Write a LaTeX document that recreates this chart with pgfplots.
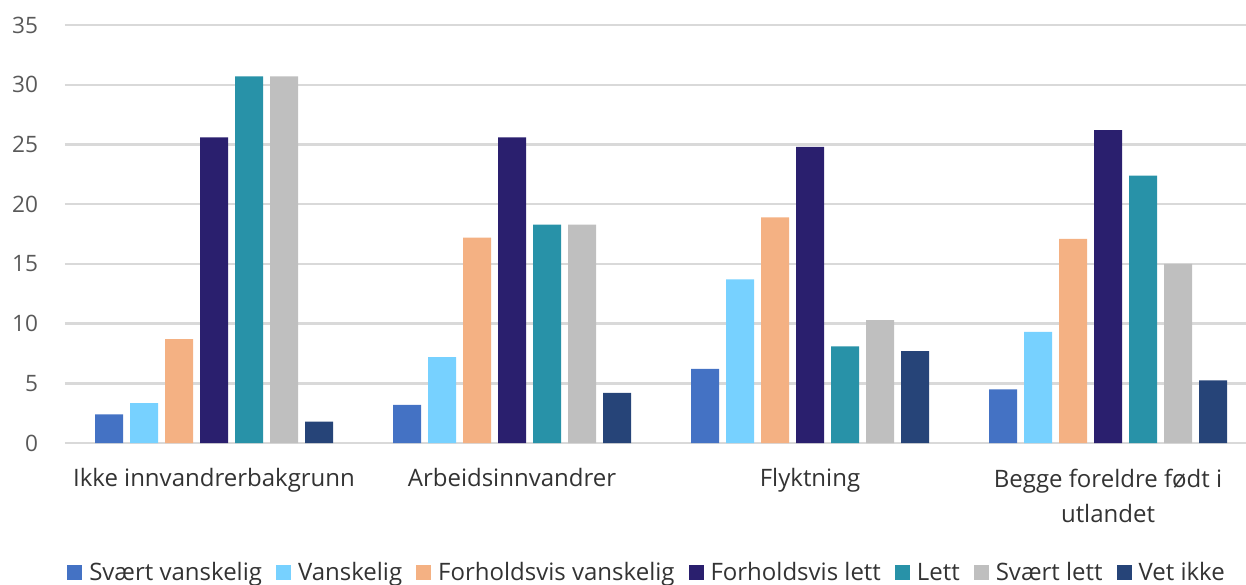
\documentclass[border=0pt]{standalone}
\usepackage{fontspec}
\setmainfont{Open Sans}
\usepackage{pgfplots}
\pgfplotsset{compat=1.18}
\definecolor{c1}{HTML}{4472C4}
\definecolor{c2}{HTML}{77D1FF}
\definecolor{c3}{HTML}{F4B183}
\definecolor{c4}{HTML}{2A1F6E}
\definecolor{c5}{HTML}{2892A8}
\definecolor{c6}{HTML}{BFBFBF}
\definecolor{c7}{HTML}{264478}
\definecolor{gridc}{HTML}{D9D9D9}
\definecolor{tickc}{HTML}{595959}
\definecolor{textc}{HTML}{333333}

\begin{document}
\begin{tikzpicture}
% page = 1246x584 px at 0.5pt per px; axis box starts at (65px, 443px)
\path[use as bounding box] (-32.5pt,-70.5pt) rectangle (590.5pt,221.5pt);
\begin{axis}[
  at={(0,0)}, anchor=south west,
  x=149pt, y=5.97pt,
  xmin=-0.5, xmax=3.463,
  ymin=0, ymax=35,
  ybar=3.5pt,
  bar width=14pt,
  axis line style={draw=none},
  major tick length=0pt,
  ymajorgrids,
  grid style={draw=gridc, line width=1.2pt},
  ytick={0,5,...,35},
  xtick={0,1,2,3},
  xticklabels={Ikke innvandrerbakgrunn, Arbeidsinnvandrer, Flyktning, {Begge foreldre født i\\utlandet}},
  xticklabel style={font=\fontsize{12}{17.5}\selectfont, text=textc, align=center, yshift=-9.3pt},
  yticklabel style={font=\fontsize{11.3}{13}\selectfont, text=tickc, xshift=-10pt},
  /pgf/number format/assume math mode=true,
  legend columns=7,
  legend style={draw=none, fill=none, at={(0.492,-0.311)}, anchor=center,
    font=\fontsize{12}{14}\selectfont, text=textc,
    nodes={inner sep=0pt},
    /tikz/every odd column/.append style={column sep=3.5pt},
    /tikz/every even column/.append style={column sep=7pt}},
  every axis plot post/.append style={draw=none,
    legend image code/.code={\fill[##1,draw=none] (0pt,-3.75pt) rectangle (7.5pt,3.75pt);}},
]
\addplot[fill=c1] coordinates {(0,2.4) (1,3.2) (2,6.2) (3,4.5)};
\addplot[fill=c2] coordinates {(0,3.35) (1,7.2) (2,13.7) (3,9.3)};
\addplot[fill=c3] coordinates {(0,8.7) (1,17.2) (2,18.9) (3,17.1)};
\addplot[fill=c4] coordinates {(0,25.6) (1,25.6) (2,24.8) (3,26.2)};
\addplot[fill=c5] coordinates {(0,30.7) (1,18.3) (2,8.1) (3,22.4)};
\addplot[fill=c6] coordinates {(0,30.7) (1,18.3) (2,10.3) (3,15.0)};
\addplot[fill=c7] coordinates {(0,1.8) (1,4.2) (2,7.7) (3,5.25)};
\legend{Svært vanskelig, Vanskelig, Forholdsvis vanskelig, Forholdsvis lett, Lett, Svært lett, Vet ikke}
\end{axis}
\end{tikzpicture}
\end{document}
